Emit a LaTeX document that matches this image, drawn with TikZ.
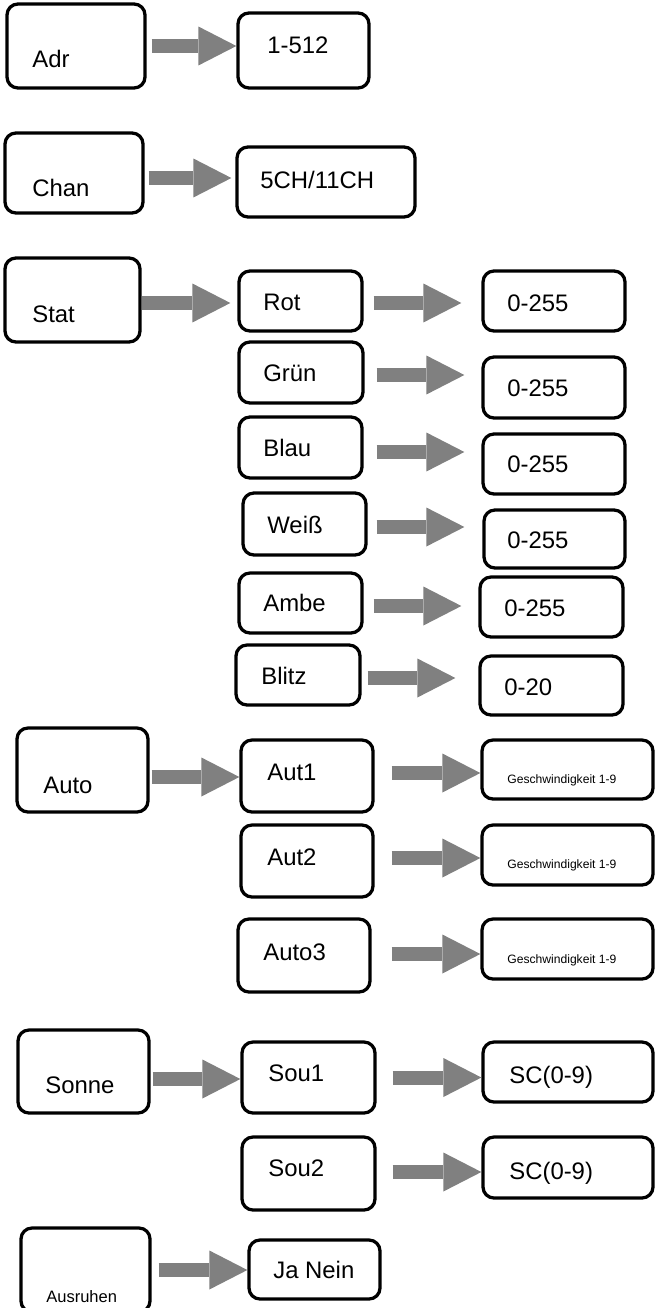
\documentclass[tikz,border=0pt]{standalone}
\usepackage{fontspec}
\setmainfont{Liberation Sans}
\usepackage{tikz}
\usetikzlibrary{arrows.meta,fit}
\definecolor{arrowgray}{RGB}{128,128,128}
\tikzset{
  menu box/.style={
     draw=black,
     fill=white,
     line width=0.065cm,
     rounded corners=0.22cm,
     inner sep=0pt
  },
  menu text/.style={
     anchor=west,
     inner sep=0pt,
     font=\fontsize{13.6pt}{16pt}\selectfont
  },
  small text/.style={
     menu text,
     font=\fontsize{6.9pt}{8pt}\selectfont
  },
  mid text/.style={
     menu text,
     font=\fontsize{9.4pt}{11pt}\selectfont
  },
  flow/.style={
     draw=arrowgray,
     line width=0.28cm,
     -{Triangle[length=0.76cm,width=0.78cm,line width=0pt]}
  }
}
\begin{document}
\begin{tikzpicture}[x=0.02cm,y=-0.02cm]
        \useasboundingbox (0,0) rectangle (654,1308);

        % Adr and Chan
        \node[menu box, fit={(7,4) (145,88)}] (adr) {};
        \node[menu text] (adr-t) at (32,59) {Adr};
        \node[menu box, fit={(238,13) (369,88)}] (adr-val) {};
        \node[menu text] (adr-val-t) at (267,45) {1-512};

        \node[menu box, fit={(5,133) (143,213)}] (chan) {};
        \node[menu text] (chan-t) at (32,188) {Chan};
        \node[menu box, fit={(237,147) (415,217)}] (chan-val) {};
        \node[menu text] (chan-val-t) at (260,180) {5CH/11CH};

        % Stat with its colours
        \node[menu box, fit={(5,258) (140,342)}] (stat) {};
        \node[menu text] (stat-t) at (32,314) {Stat};

        \node[menu box, fit={(239,271) (362,331)}] (rot) {};
        \node[menu text] (rot-t) at (263,302) {Rot};
        \node[menu box, fit={(239,342) (363,403)}] (gruen) {};
        \node[menu text] (gruen-t) at (263,373) {Grün};
        \node[menu box, fit={(239,417) (362,478)}] (blau) {};
        \node[menu text] (blau-t) at (263,448) {Blau};
        \node[menu box, fit={(243,493) (366,555)}] (weiss) {};
        \node[menu text] (weiss-t) at (267,525) {Weiß};
        \node[menu box, fit={(239,573) (362,633)}] (ambe) {};
        \node[menu text] (ambe-t) at (263,603) {Ambe};
        \node[menu box, fit={(236,645) (360,705)}] (blitz) {};
        \node[menu text] (blitz-t) at (261,676) {Blitz};

        \node[menu box, fit={(483,271) (625,331)}] (rot-val) {};
        \node[menu text] (rot-val-t) at (507,303) {0-255};
        \node[menu box, fit={(483,357) (625,418)}] (gruen-val) {};
        \node[menu text] (gruen-val-t) at (507,388) {0-255};
        \node[menu box, fit={(483,434) (625,494)}] (blau-val) {};
        \node[menu text] (blau-val-t) at (507,464) {0-255};
        \node[menu box, fit={(484,510) (625,568)}] (weiss-val) {};
        \node[menu text] (weiss-val-t) at (507,540) {0-255};
        \node[menu box, fit={(480,577) (623,637)}] (ambe-val) {};
        \node[menu text] (ambe-val-t) at (504,608) {0-255};
        \node[menu box, fit={(480,656) (623,715)}] (blitz-val) {};
        \node[menu text] (blitz-val-t) at (504,687) {0-20};

        % Auto programs
        \node[menu box, fit={(17,728) (148,812)}] (auto) {};
        \node[menu text] (auto-t) at (43,785) {Auto};

        \node[menu box, fit={(241,740) (373,812)}] (aut1) {};
        \node[menu text] (aut1-t) at (267,772) {Aut1};
        \node[menu box, fit={(241,825) (373,897)}] (aut2) {};
        \node[menu text] (aut2-t) at (267,857) {Aut2};
        \node[menu box, fit={(238,919) (370,992)}] (aut3) {};
        \node[menu text] (aut3-t) at (263,952) {Auto3};

        \node[menu box, fit={(482,740) (653,799)}] (aut1-val) {};
        \node[small text] (aut1-val-t) at (507,780) {Geschwindigkeit 1-9};
        \node[menu box, fit={(482,825) (653,885)}] (aut2-val) {};
        \node[small text] (aut2-val-t) at (507,865) {Geschwindigkeit 1-9};
        \node[menu box, fit={(482,919) (653,979)}] (aut3-val) {};
        \node[small text] (aut3-val-t) at (507,960) {Geschwindigkeit 1-9};

        % Sonne
        \node[menu box, fit={(18,1030) (149,1113)}] (sonne) {};
        \node[menu text] (sonne-t) at (45,1085) {Sonne};

        \node[menu box, fit={(242,1042) (375,1113)}] (sou1) {};
        \node[menu text] (sou1-t) at (268,1073) {Sou1};
        \node[menu box, fit={(242,1137) (375,1210)}] (sou2) {};
        \node[menu text] (sou2-t) at (268,1168) {Sou2};

        \node[menu box, fit={(483,1042) (653,1102)}] (sou1-val) {};
        \node[menu text] (sou1-val-t) at (509,1077) {SC(0-9)};
        \node[menu box, fit={(483,1137) (653,1198)}] (sou2-val) {};
        \node[menu text] (sou2-val-t) at (509,1173) {SC(0-9)};

        % Ausruhen
        \node[menu box, fit={(21,1228) (150,1312)}] (ausr) {};
        \node[mid text] (ausr-t) at (46,1297) {Ausruhen};
        \node[menu box, fit={(249,1240) (380,1299)}] (ausr-val) {};
        \node[menu text] (ausr-val-t) at (273,1270) {Ja Nein};

        % Arrows
        \draw[flow, shorten <=0.1cm] (adr.east) coordinate (a1) -- (a1 -| adr-val.west);
        \draw[flow, shorten <=0.08cm, shorten >=0.08cm] ([yshift=-0.1cm]chan.east) coordinate (a2) -- (a2 -| chan-val.west);
        \draw[flow, shorten >=0.14cm] ([yshift=-0.06cm]stat.east) coordinate (a3) -- (a3 -| rot.west);

        \draw[flow, shorten <=0.2cm, shorten >=0.4cm] ([yshift=-0.04cm]rot.east) coordinate (a4) -- (a4 -| rot-val.west);
        \draw[flow, shorten <=0.24cm, shorten >=0.34cm] ([yshift=-0.05cm]gruen.east) coordinate (a5) -- (a5 -| gruen-val.west);
        \draw[flow, shorten <=0.26cm, shorten >=0.34cm] ([yshift=-0.09cm]blau.east) coordinate (a6) -- (a6 -| blau-val.west);
        \draw[flow, shorten <=0.18cm, shorten >=0.36cm] ([yshift=-0.06cm]weiss.east) coordinate (a7) -- (a7 -| weiss-val.west);
        \draw[flow, shorten <=0.2cm, shorten >=0.34cm] ([yshift=-0.06cm]ambe.east) coordinate (a8) -- (a8 -| ambe-val.west);
        \draw[flow, shorten <=0.12cm, shorten >=0.46cm] ([yshift=-0.06cm]blitz.east) coordinate (a9) -- (a9 -| blitz-val.west);

        \draw[flow, shorten <=0.04cm] ([yshift=-0.14cm]auto.east) coordinate (a10) -- (a10 -| aut1.west);
        \draw[flow, shorten <=0.34cm] ([yshift=0.06cm]aut1.east) coordinate (a11) -- (a11 -| aut1-val.west);
        \draw[flow, shorten <=0.34cm] ([yshift=0.06cm]aut2.east) coordinate (a12) -- (a12 -| aut2-val.west);
        \draw[flow, shorten <=0.4cm] ([yshift=0.03cm]aut3.east) coordinate (a13) -- (a13 -| aut3-val.west);

        \draw[flow, shorten <=0.04cm] ([yshift=-0.15cm]sonne.east) coordinate (a14) -- (a14 -| sou1.west);
        \draw[flow, shorten <=0.32cm] (sou1.east) coordinate (a15) -- (a15 -| sou1-val.west);
        \draw[flow, shorten <=0.32cm] ([yshift=0.03cm]sou2.east) coordinate (a16) -- (a16 -| sou2-val.west);

        \draw[flow, shorten <=0.14cm] (ausr.east) coordinate (a17) -- (a17 -| ausr-val.west);
\end{tikzpicture}
\end{document}
